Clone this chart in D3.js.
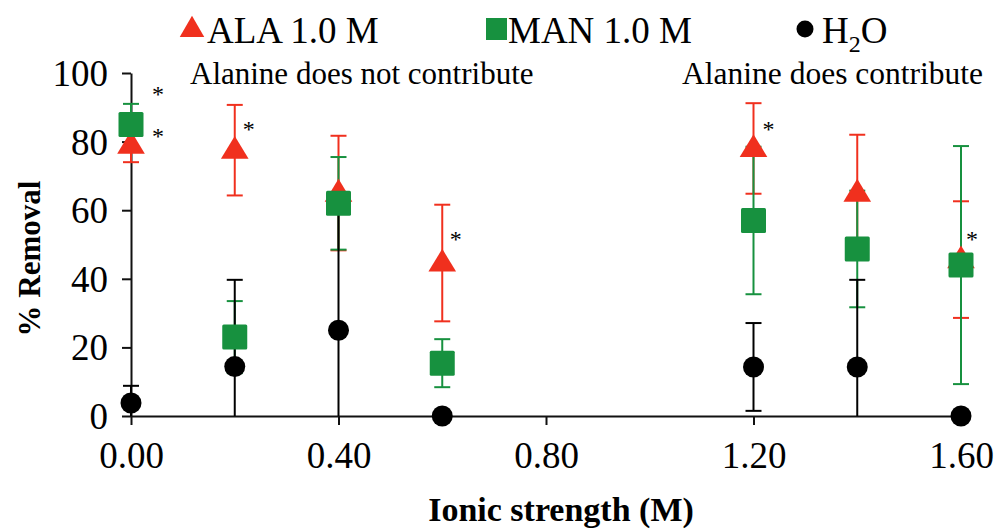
<!DOCTYPE html>
<html>
<head>
<meta charset="utf-8">
<script src="https://cdn.jsdelivr.net/npm/d3@7"></script>
<style>
  body { margin: 0; background: #fff; }
  text { font-family: "Liberation Serif", "Times New Roman", serif; fill: #000; }
</style>
</head>
<body>
<div id="chart-area"></div>
<script>
var width = 995,
    height = 531;

// ionic strength (M)
var strengths = [0, 0.2, 0.4, 0.6, 1.2, 1.4, 1.6];
var alaValues = [79, 77.5, 65, 44.6, 78, 65, 45.6];
var alaErrors = [5, 13.2, 16.7, 17, 13.2, 17, 17];
var manValues = [85, 23, 62, 15.4, 57, 48.7, 44];
var manErrors = [6, 10.5, 13.5, 7, 21.5, 17, 34.7];
var h2oValues = [3.8, 14.4, 25, 0, 14.3, 14.3, 0];
var h2oErrors = [5, 25.3, 37, 0, 12.8, 25.4, 0];
var xTicks = [0, 0.4, 0.8, 1.2, 1.6];
var yTicks = [0, 20, 40, 60, 80, 100];
// significance stars (x, y in data units)
var starX = [0.052, 0.052, 0.227, 0.626, 1.229, 1.621];
var starY = [95, 82.8, 84.8, 52.8, 84.8, 52.8];

var red = "#f0301e",
    green = "#17913f",
    black = "#000";

var x = d3.scaleLinear().domain([0, 1.6]).range([131, 961]);
var y = d3.scaleLinear().domain([0, 100]).range([416, 73]);

var svg = d3.select("#chart-area")
    .append("svg")
        .attr("width", width)
        .attr("height", height);

// axes
var xAxis = svg.append("g")
    .attr("transform", "translate(0," + y(0) + ")")
    .call(d3.axisBottom(x).tickValues(xTicks).tickFormat(d3.format(".2f"))
        .tickSizeInner(9).tickSizeOuter(0).tickPadding(10));

var yAxis = svg.append("g")
    .attr("transform", "translate(" + x(0) + ",0)")
    .call(d3.axisLeft(y).tickValues(yTicks).tickSizeInner(9).tickSizeOuter(0).tickPadding(14));

[xAxis, yAxis].forEach(function(g) {
    g.select(".domain").attr("stroke", "#111").attr("stroke-width", 2);
    g.selectAll(".tick line").attr("stroke", "#111").attr("stroke-width", 2);
    g.selectAll(".tick text")
        .attr("fill", "#000")
        .style("font-family", "'Liberation Serif', serif")
        .style("font-size", "37px");
});
xAxis.selectAll(".tick text").attr("dy", "0.9em");
yAxis.selectAll(".tick text").attr("dy", "0.34em");

// build series table
var series = [
    { key: "ala", color: red, values: alaValues, errors: alaErrors },
    { key: "man", color: green, values: manValues, errors: manErrors },
    { key: "h2o", color: black, values: h2oValues, errors: h2oErrors }
];

var capHalf = 8;

series.forEach(function(s) {
    var rows = strengths.map(function(xv, i) {
        return { x: xv, v: s.values[i], e: s.errors[i] };
    }).filter(function(d) { return d.e > 0; });

    var g = svg.append("g").attr("class", "err-" + s.key)
        .attr("stroke", s.color).attr("stroke-width", 2);

    rows.forEach(function(d) {
        var lo = Math.max(0, d.v - d.e),
            hi = d.v + d.e;
        g.append("line")
            .attr("x1", x(d.x)).attr("x2", x(d.x))
            .attr("y1", y(lo)).attr("y2", y(hi));
        g.append("line")
            .attr("x1", x(d.x) - capHalf).attr("x2", x(d.x) + capHalf)
            .attr("y1", y(hi)).attr("y2", y(hi));
        if (d.v - d.e > 0) {
            g.append("line")
                .attr("x1", x(d.x) - capHalf).attr("x2", x(d.x) + capHalf)
                .attr("y1", y(lo)).attr("y2", y(lo));
        }
    });
});

// markers: circle, triangle, square
svg.append("g").selectAll("circle")
    .data(strengths.map(function(xv, i) { return { x: xv, v: h2oValues[i] }; }))
    .enter().append("circle")
        .attr("cx", function(d) { return x(d.x); })
        .attr("cy", function(d) { return y(d.v); })
        .attr("r", 10.5)
        .attr("fill", black);

var tri = d3.symbol().type(d3.symbolTriangle).size(300);
svg.append("g").selectAll("path")
    .data(strengths.map(function(xv, i) { return { x: xv, v: alaValues[i] }; }))
    .enter().append("path")
        .attr("d", tri)
        .attr("transform", function(d) {
            return "translate(" + x(d.x) + "," + (y(d.v) + 1) + ") scale(1.05,1)";
        })
        .attr("fill", red);

svg.append("g").selectAll("rect")
    .data(strengths.map(function(xv, i) { return { x: xv, v: manValues[i] }; }))
    .enter().append("rect")
        .attr("x", function(d) { return x(d.x) - 12.5; })
        .attr("y", function(d) { return y(d.v) - 12.5; })
        .attr("width", 25)
        .attr("height", 25)
        .attr("rx", 1.5)
        .attr("fill", green);

// stars
svg.append("g").selectAll("text")
    .data(starX.map(function(xv, i) { return { x: xv, v: starY[i] }; }))
    .enter().append("text")
        .attr("x", function(d) { return x(d.x); })
        .attr("y", function(d) { return y(d.v); })
        .attr("dy", "0.5em")
        .attr("text-anchor", "middle")
        .attr("fill", "#000")
        .style("font-size", "24px")
        .text("*");

// annotations
svg.append("text")
    .attr("x", 190).attr("y", 84)
    .style("font-size", "31px")
    .text("Alanine does not contribute");
svg.append("text")
    .attr("x", 983).attr("y", 84)
    .attr("text-anchor", "end")
    .style("font-size", "31.5px")
    .text("Alanine does contribute");

// axis titles
svg.append("text")
    .attr("transform", "translate(40," + ((y(0) + y(100)) / 2 + 14) + ") rotate(-90)")
    .attr("text-anchor", "middle")
    .style("font-size", "31px")
    .style("font-weight", "bold")
    .text("% Removal");

svg.append("text")
    .attr("x", 561).attr("y", 521)
    .attr("text-anchor", "middle")
    .style("font-size", "34px")
    .style("font-weight", "bold")
    .text("Ionic strength (M)");

// legend
var legend = svg.append("g").style("font-size", "37px");
legend.append("path")
    .attr("d", d3.symbol().type(d3.symbolTriangle).size(260))
    .attr("transform", "translate(192,30)")
    .attr("fill", red);
legend.append("text").attr("x", 207).attr("y", 43).text("ALA 1.0 M");

legend.append("rect")
    .attr("x", 486).attr("y", 18).attr("width", 21).attr("height", 22)
    .attr("fill", green);
legend.append("text").attr("x", 508).attr("y", 43).text("MAN 1.0 M");

legend.append("circle")
    .attr("cx", 805).attr("cy", 29).attr("r", 8.5)
    .attr("fill", black);
var h2o = legend.append("text").attr("x", 822).attr("y", 43);
h2o.append("tspan").text("H");
h2o.append("tspan").attr("dy", 9).style("font-size", "24px").text("2");
h2o.append("tspan").attr("dy", -9).text("O");
</script>
</body>
</html>
